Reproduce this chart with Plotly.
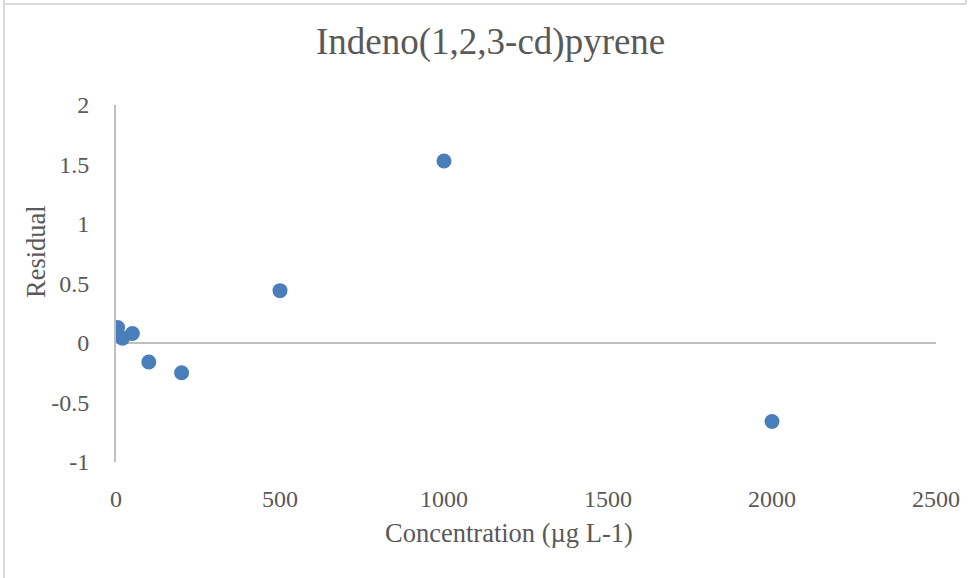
import plotly.graph_objects as go

# Calibration residuals for Indeno(1,2,3-cd)pyrene
concentration = [5, 20, 50, 100, 200, 500, 1000, 2000]
residual = [0.13, 0.04, 0.08, -0.16, -0.25, 0.44, 1.53, -0.66]

x_ticks = [0, 500, 1000, 1500, 2000, 2500]
y_ticks = [-1, -0.5, 0, 0.5, 1, 1.5, 2]
y_tick_text = ["-1", "-0.5", "0", "0.5", "1", "1.5", "2"]

W, H = 972, 578
L, R, T, B = 116, 36, 105, 116
pw, ph = W - L - R, H - T - B


def px(x):
    return (x - L) / pw


def py(y):
    return (H - B - y) / ph


FONT = "Liberation Serif"
TXT = "#595959"
AX = "#BFBFBF"
BORDER = "#D9D9D9"

fig = go.Figure(
    go.Scatter(
        x=concentration,
        y=residual,
        mode="markers",
        marker=dict(size=15, color="#4A7EBB"),
        showlegend=False,
    )
)

fig.update_layout(
    width=W,
    height=H,
    margin=dict(l=L, r=R, t=T, b=B),
    paper_bgcolor="white",
    plot_bgcolor="white",
    font=dict(family=FONT, color=TXT, size=24),
    xaxis=dict(
        range=[0, 2500],
        tickvals=x_ticks,
        showgrid=False,
        zeroline=False,
        showline=False,
        ticks="",
        ticklabelstandoff=20,
        tickfont=dict(size=24, color=TXT, family=FONT),
    ),
    yaxis=dict(
        range=[-1, 2],
        tickvals=y_ticks,
        ticktext=y_tick_text,
        showgrid=False,
        zeroline=True,
        zerolinecolor=AX,
        zerolinewidth=2,
        showline=True,
        linecolor=AX,
        linewidth=2,
        ticks="",
        ticklabelstandoff=20,
        tickfont=dict(size=24, color=TXT, family=FONT),
    ),
    annotations=[
        dict(text="Indeno(1,2,3-cd)pyrene", x=px(490), y=py(42), xref="paper", yref="paper",
             showarrow=False, font=dict(size=37, color=TXT, family=FONT),
             xanchor="center", yanchor="middle"),
        dict(text="Concentration (µg L-1)", x=px(509), y=py(533), xref="paper", yref="paper",
             showarrow=False, font=dict(size=26.5, color=TXT, family=FONT),
             xanchor="center", yanchor="middle"),
        dict(text="Residual", x=px(36), y=py(252), xref="paper", yref="paper",
             showarrow=False, textangle=-90, font=dict(size=26.5, color=TXT, family=FONT),
             xanchor="center", yanchor="middle"),
    ],
    shapes=[
        dict(type="line", xref="paper", yref="paper", x0=px(4), x1=px(4), y0=py(0), y1=py(578),
             line=dict(color=BORDER, width=2)),
        dict(type="line", xref="paper", yref="paper", x0=px(4), x1=px(966), y0=py(4), y1=py(4),
             line=dict(color=BORDER, width=2)),
        dict(type="line", xref="paper", yref="paper", x0=px(966), x1=px(966), y0=py(0), y1=py(4),
             line=dict(color=BORDER, width=2)),
    ],
)

fig.write_html("out.html")
